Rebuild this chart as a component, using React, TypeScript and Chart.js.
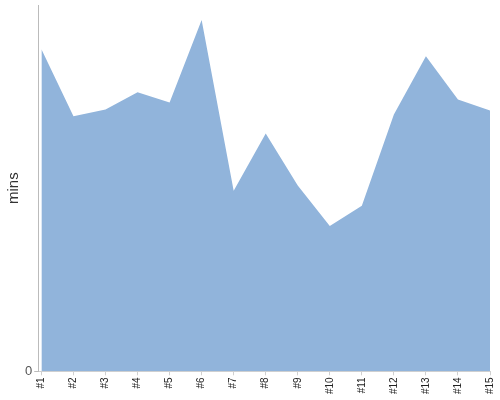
import React, { useEffect, useRef } from "react";
import { Chart, registerables } from "chart.js";

Chart.register(...registerables);

const categories = ["#1", "#2", "#3", "#4", "#5", "#6", "#7", "#8", "#9", "#10", "#11", "#12", "#13", "#14", "#15"];
const minsValues = [87.9, 69.6, 71.5, 76.2, 73.4, 95.9, 49.3, 64.9, 50.7, 39.7, 45.2, 70.1, 86.0, 74.2, 71.2];
const yTickValues = [0];

export default function App() {
  const ref = useRef<HTMLCanvasElement | null>(null);

  useEffect(() => {
    document.body.style.margin = "0";
    const canvas = ref.current;
    if (!canvas) return;
    const points = minsValues.map((v, i) => ({ x: i, y: v }));
    const chart = new Chart(canvas, {
      type: "line",
      data: {
        datasets: [
          {
            data: points,
            fill: "origin",
            backgroundColor: "rgb(145,180,219)",
            borderWidth: 0,
            borderColor: "rgba(0,0,0,0)",
            pointRadius: 0,
            tension: 0,
          },
        ],
      },
      options: {
        animation: false,
        responsive: false,
        maintainAspectRatio: false,
        layout: { padding: { top: 5, right: 10, left: 5, bottom: 4 } },
        plugins: { legend: { display: false }, tooltip: { enabled: false } },
        scales: {
          x: {
            type: "linear",
            min: -0.1,
            max: categories.length - 1,
            afterBuildTicks: (axis: any) => {
              axis.ticks = categories.map((_, i) => ({ value: i }));
            },
            afterFit: (axis: any) => {
              axis.paddingRight = 0;
            },
            border: { display: true, color: "#d0d0d0" },
            grid: { display: true, drawOnChartArea: false, tickLength: 4, color: "#d0d0d0" },
            ticks: {
              maxRotation: 90,
              minRotation: 90,
              autoSkip: false,
              padding: 2,
              color: "#222",
              callback: (v: any) => categories[Math.round(Number(v))] ?? "",
              font: { family: "Liberation Sans, Arial, sans-serif", size: 10 },
            },
          },
          y: {
            min: 0,
            max: 100,
            afterBuildTicks: (axis: any) => {
              axis.ticks = yTickValues.map((v) => ({ value: v }));
            },
            afterFit: (axis: any) => {
              axis.paddingTop = 0;
            },
            border: { display: true, color: "#bbbbbb" },
            grid: { display: true, drawOnChartArea: false, tickLength: 4, color: "#bbbbbb" },
            ticks: {
              color: "#555",
              padding: 2,
              font: { family: "Liberation Sans, Arial, sans-serif", size: 13 },
            },
            title: {
              display: true,
              text: "mins",
              color: "#333",
              padding: { top: 0, bottom: 0 },
              font: { family: "Liberation Sans, Arial, sans-serif", size: 15 },
            },
          },
        },
      },
    });
    return () => chart.destroy();
  }, []);

  return (
    <div style={{ position: "fixed", left: 0, top: 0, width: 500, height: 400 }}>
      <canvas ref={ref} width={500} height={400} style={{ width: 500, height: 400 }} />
    </div>
  );
}
